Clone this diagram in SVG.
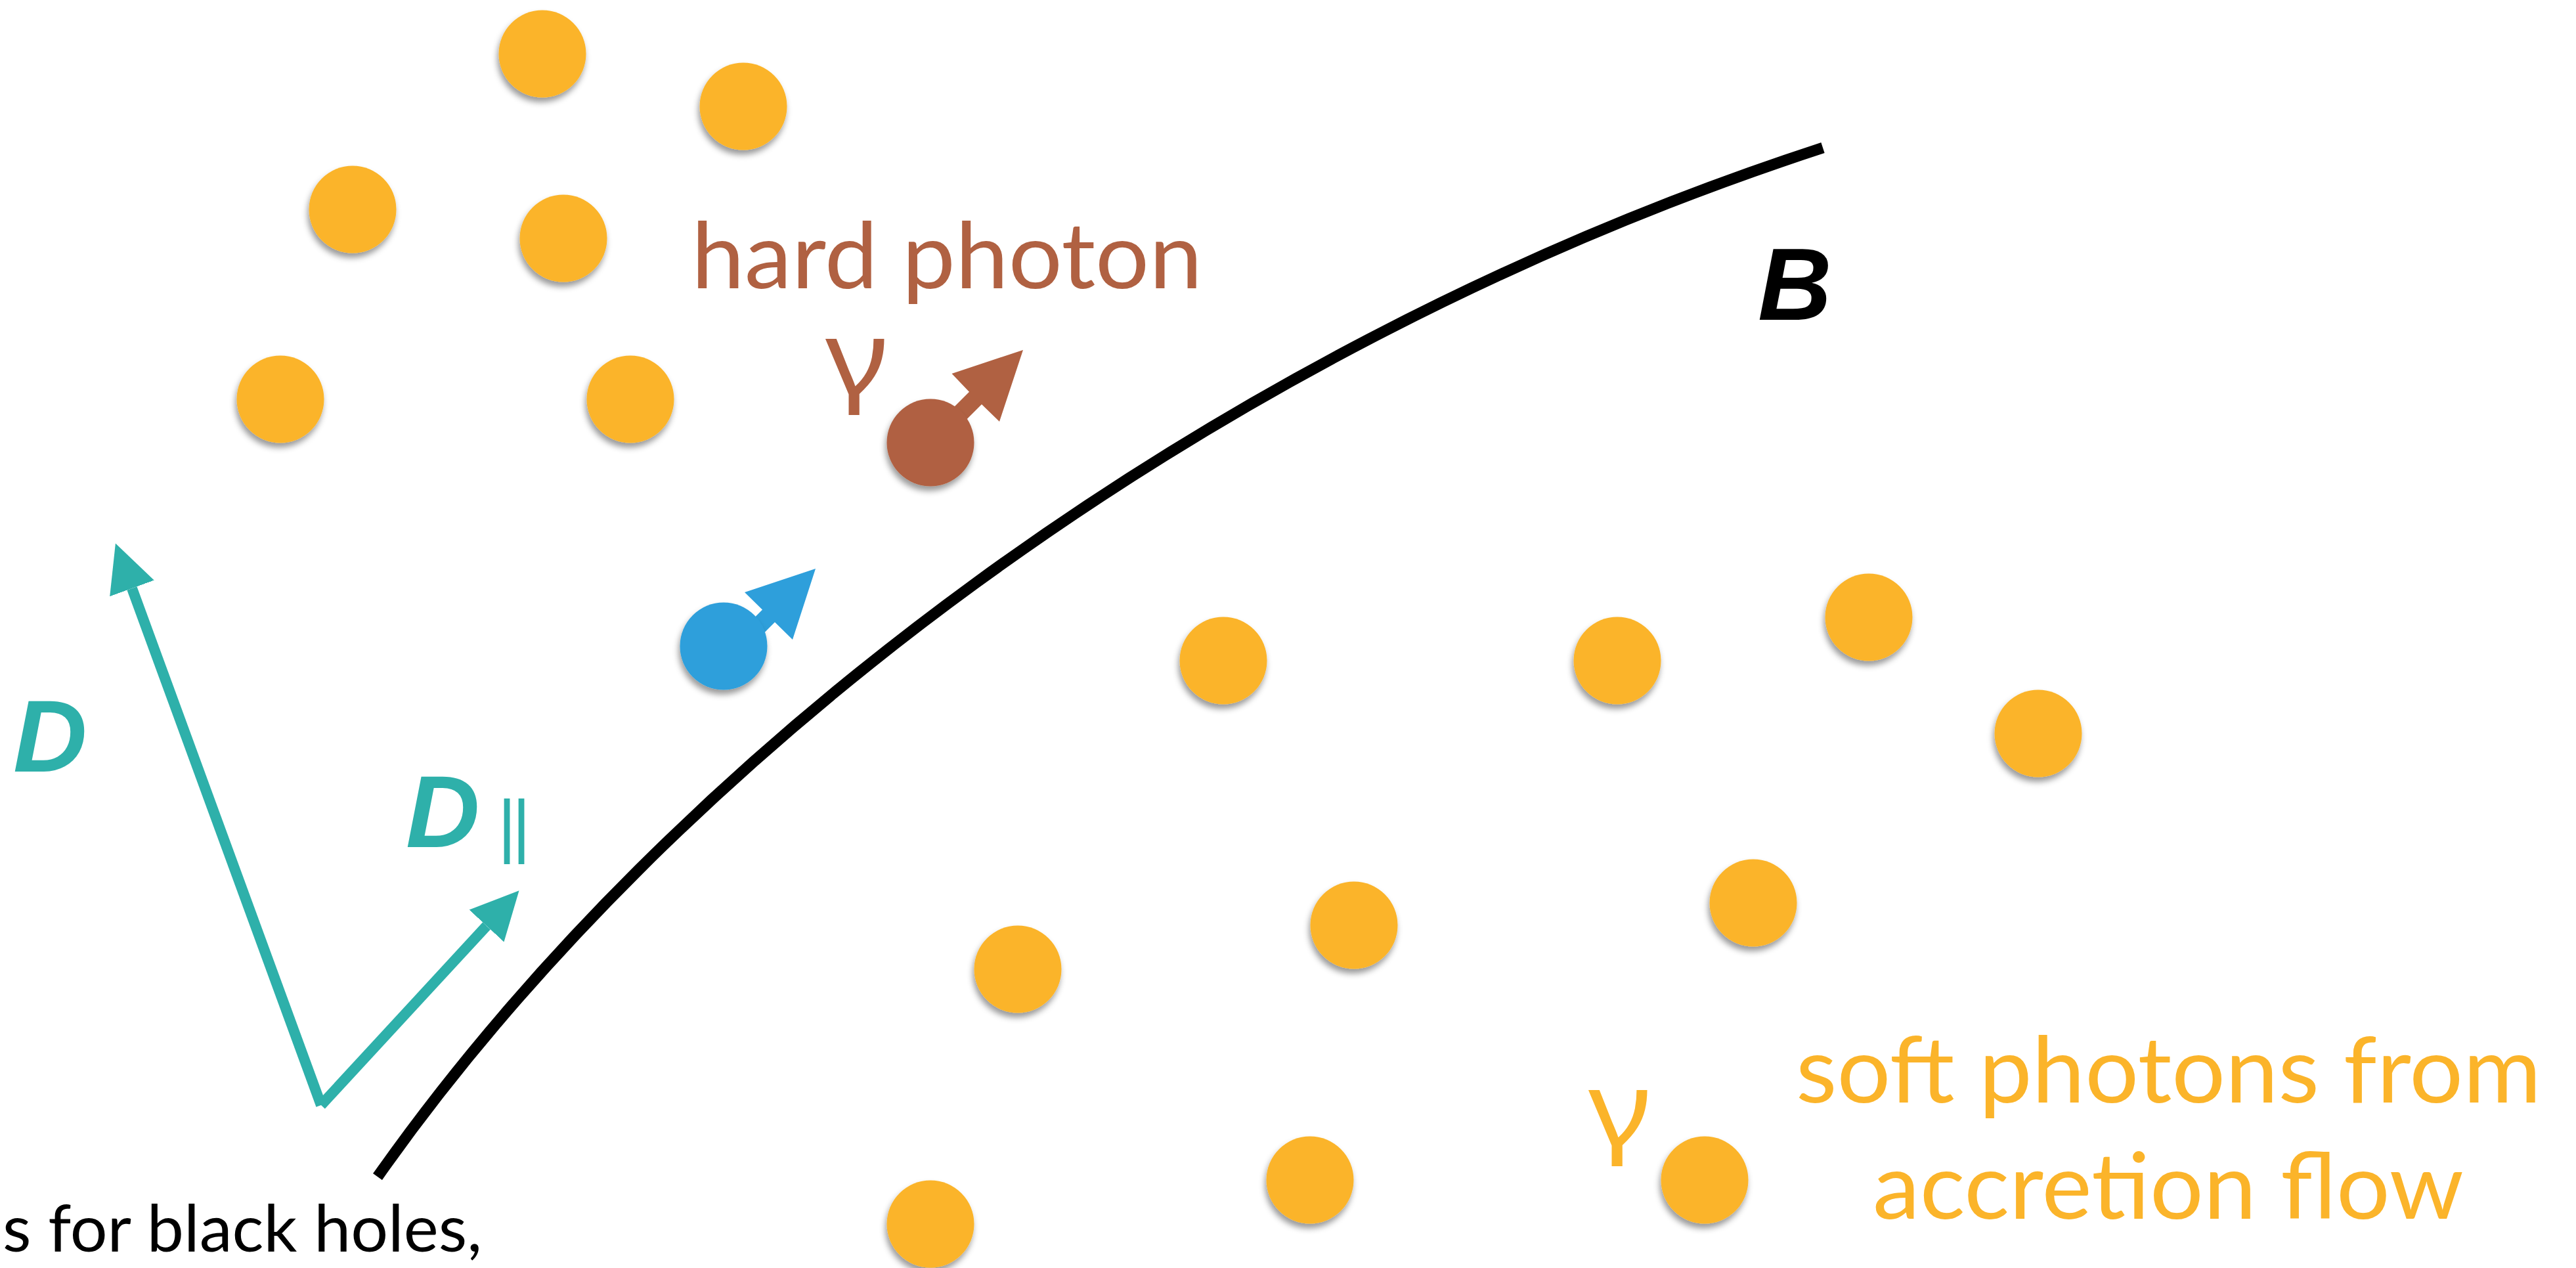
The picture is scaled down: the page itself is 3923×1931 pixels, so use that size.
<svg xmlns="http://www.w3.org/2000/svg" width="3923" height="1931" viewBox="0 0 3923 1931">
<defs>
<style>
.soft{fill:#FBB42A;filter:url(#sh)}
.lbl{font-family:Lato,"Noto Sans",sans-serif}
.gam{font-family:"Noto Sans","DejaVu Sans",sans-serif;font-size:155px}
.vec{font-family:"Liberation Sans",Arial,sans-serif;font-weight:bold;font-style:italic;font-size:156px}
.teal{stroke:#2EB0AA;stroke-width:16;fill:none;stroke-linecap:butt}
</style>
<filter id="sh" x="-30%" y="-30%" width="160%" height="170%">
<feDropShadow dx="-2" dy="7" stdDeviation="5" flood-color="#000" flood-opacity="0.4"/>
</filter>
<marker id="ah" markerUnits="userSpaceOnUse" markerWidth="80" markerHeight="80" viewBox="0 -40 80 80" refX="0" refY="0" orient="auto">
<path d="M0,-36 L73,0 L0,36 Z" fill="#2EB0AA"/>
</marker>
</defs>
<rect width="3923" height="1931" fill="#fff"/>

<g id="connectors">
<path id="field-B" d="M575,1792 C1020,1160 1826,535 2776,225" fill="none" stroke="#000" stroke-width="17"/>
<line id="vec-D" class="teal" x1="489" y1="1683" x2="201" y2="896" marker-end="url(#ah)"/>
<line id="vec-Dpar" class="teal" x1="489" y1="1683" x2="741" y2="1410" marker-end="url(#ah)"/>
</g>

<g id="soft-photons">
<circle class="soft" cx="826" cy="82" r="66.5"/>
<circle class="soft" cx="1132" cy="162" r="66.5"/>
<circle class="soft" cx="537" cy="319" r="66.5"/>
<circle class="soft" cx="858" cy="363" r="66.5"/>
<circle class="soft" cx="427" cy="608" r="66.5"/>
<circle class="soft" cx="960" cy="608" r="66.5"/>
<circle class="soft" cx="1863" cy="1006" r="66.5"/>
<circle class="soft" cx="2463" cy="1006" r="66.5"/>
<circle class="soft" cx="2846" cy="940" r="66.5"/>
<circle class="soft" cx="3104" cy="1117" r="66.5"/>
<circle class="soft" cx="2062" cy="1409" r="66.5"/>
<circle class="soft" cx="2670" cy="1375" r="66.5"/>
<circle class="soft" cx="1550" cy="1476" r="66.5"/>
<circle class="soft" cx="1995" cy="1797" r="66.5"/>
<circle class="soft" cx="2596" cy="1797" r="66.5"/>
<circle class="soft" cx="1417" cy="1864" r="66.5"/>
</g>

<g id="electron">
<polygon points="1242,866 1134,902 1161,928.5 1101,988.5 1120,1007.5 1180,947.5 1207,974" fill="#2E9FDB"/>
<circle cx="1102" cy="984" r="66.5" fill="#2E9FDB" filter="url(#sh)"/>
</g>

<g id="hard-photon">
<polygon points="1558,533 1449.5,569 1476,596.7 1416,656.7 1435,675.7 1495,615.7 1522,642" fill="#B06142"/>
<circle cx="1417" cy="674" r="66.5" fill="#B06142" filter="url(#sh)"/>
</g>

<g id="label-hard">
<text class="lbl" x="1053" y="439" font-size="140" fill="#B06142" textLength="778" lengthAdjust="spacingAndGlyphs">hard photon</text>
<text class="gam" x="1257" y="599" fill="#B06142" textLength="95" lengthAdjust="spacingAndGlyphs">γ</text>
</g>

<g id="label-soft">
<text class="lbl" x="2735" y="1679" font-size="140" fill="#FBB42A" textLength="1135" lengthAdjust="spacingAndGlyphs">soft photons from</text>
<text class="lbl" x="2852" y="1856" font-size="140" fill="#FBB42A" textLength="900" lengthAdjust="spacingAndGlyphs">accretion flow</text>
<text class="gam" x="2419" y="1743" fill="#FBB42A" textLength="95" lengthAdjust="spacingAndGlyphs">γ</text>
</g>

<g id="label-B">
<text class="vec" x="2677" y="487" fill="#000">B</text>
</g>

<g id="label-D">
<text class="vec" x="20" y="1175" fill="#2EB0AA">D</text>
</g>

<g id="label-Dpar">
<text class="vec" x="618" y="1290" fill="#2EB0AA">D</text>
<text x="758" y="1294" font-family="'Liberation Sans',Arial,sans-serif" font-size="108" letter-spacing="-6" fill="#2EB0AA">||</text>
</g>

<g id="caption">
<text class="lbl" x="4" y="1906" font-size="99" fill="#000" textLength="730" lengthAdjust="spacingAndGlyphs">s for black holes,</text>
</g>
</svg>
